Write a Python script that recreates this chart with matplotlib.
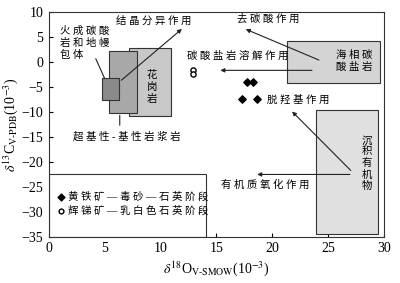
import matplotlib.pyplot as plt
from matplotlib.patches import Rectangle

plt.rcParams['font.family'] = ['Liberation Serif', 'Noto Sans CJK SC', 'DejaVu Sans']
plt.rcParams['mathtext.fontset'] = 'stix'

# 样品数据 (δ18O, δ13C)
o18_pyrite = [17.7, 18.3, 17.3, 18.6]
c13_pyrite = [-4.05, -4.05, -7.3, -7.3]
o18_stibnite = [12.9, 12.9]
c13_stibnite = [-1.65, -2.45]

# 端元区域: (x0, y0, x1, y1, 颜色)
fields = [
    (7.2, -10.7, 10.9, 2.8, '#c8c8c8'),   # 花岗岩
    (5.4, -10.1, 7.9, 2.2, '#a8a8a8'),    # 超基性-基性岩浆岩
    (4.8, -7.6, 6.3, -3.2, '#8a8a8a'),    # 火成碳酸岩和地幔包体
    (21.3, -4.1, 29.6, 4.2, '#d4d4d4'),   # 海相碳酸盐岩
    (23.9, -34.5, 29.5, -9.5, '#e0e0e0'), # 沉积有机物
]


def sp(s):
    # 字间加空格, 模仿原图的字距
    return '\n'.join(' '.join(line) for line in s.split('\n'))


fig, ax = plt.subplots(figsize=(4, 2.83), dpi=100)
fig.subplots_adjust(left=0.122, right=0.96, top=0.957, bottom=0.163)

for x0, y0, x1, y1, c in fields:
    ax.add_patch(Rectangle((x0, y0), x1 - x0, y1 - y0, facecolor=c,
                           edgecolor='#333333', linewidth=0.8, zorder=2))

# 图例框
ax.add_patch(Rectangle((0, -35), 14.1, 12.5, facecolor='white',
                       edgecolor='#333333', linewidth=0.8, zorder=2))

ax.scatter(o18_pyrite, c13_pyrite, marker='D', s=14, color='black', zorder=5)
ax.scatter(o18_stibnite, c13_stibnite, marker='o', s=14, facecolor='white',
           edgecolor='black', linewidth=1.0, zorder=5)

ap = dict(arrowstyle='-|>', color='#222222', lw=0.8, mutation_scale=6)
ln = dict(arrowstyle='-', color='#222222', lw=0.8)
cfs = 7.5

ax.annotate('', xy=(12.1, 7.0), xytext=(6.3, -4.0), arrowprops=ap, zorder=4)
ax.annotate('', xy=(4.1, 1.2), xytext=(5.1, -3.8), arrowprops=ln, zorder=4)
ax.annotate('', xy=(6.35, -13.2), xytext=(6.35, -10.1), arrowprops=ln, zorder=4)
ax.annotate('', xy=(17.4, 6.8), xytext=(24.4, 0.2), arrowprops=ap, zorder=4)
ax.annotate('', xy=(15.1, -1.65), xytext=(23.8, -1.65), arrowprops=ap, zorder=4)
ax.annotate('', xy=(21.6, -9.5), xytext=(27.2, -22.1), arrowprops=ap, zorder=4)
ax.annotate('', xy=(18.4, -22.5), xytext=(27.2, -22.5), arrowprops=ap, zorder=4)

ax.text(9.4, 8.3, sp('结晶分异作用'), fontsize=cfs, ha='center', va='center', zorder=6)
ax.text(1.0, 7.2, sp('火成碳酸\n岩和地幔\n包体'), fontsize=cfs, ha='left', va='top',
        linespacing=1.2, zorder=6)
ax.text(7.0, -15.0, sp('超基性-基性岩浆岩'), fontsize=cfs, ha='center', va='center', zorder=6)
ax.text(9.2, -5.0, '花\n岗\n岩', fontsize=cfs, ha='center', va='center',
        linespacing=1.25, zorder=6)
ax.text(19.6, 8.6, sp('去碳酸作用'), fontsize=cfs, ha='center', va='center', zorder=6)
ax.text(16.9, 1.2, sp('碳酸盐岩溶解作用'), fontsize=cfs, ha='center', va='center', zorder=6)
ax.text(27.3, 0.2, sp('海相碳\n酸盐岩'), fontsize=cfs, ha='center', va='center',
        linespacing=1.2, zorder=6)
ax.text(22.3, -7.5, sp('脱羟基作用'), fontsize=cfs, ha='center', va='center', zorder=6)
ax.text(19.4, -24.6, sp('有机质氧化作用'), fontsize=cfs, ha='center', va='center', zorder=6)
ax.text(28.5, -20.3, '沉\n积\n有\n机\n物', fontsize=cfs, ha='center', va='center',
        linespacing=1.2, zorder=6)

# 图例
ax.scatter([1.07], [-27.0], marker='D', s=12, color='black', zorder=6)
ax.scatter([1.07], [-29.8], marker='o', s=12, facecolor='white', edgecolor='black',
           linewidth=1.0, zorder=6)
ax.text(1.7, -27.0, sp('黄铁矿—毒砂—石英阶段'), fontsize=cfs, ha='left', va='center', zorder=6)
ax.text(1.7, -29.8, sp('辉锑矿—乳白色石英阶段'), fontsize=cfs, ha='left', va='center', zorder=6)

ax.set_xlim(0, 30)
ax.set_ylim(-35, 10)
ax.set_xticks([0, 5, 10, 15, 20, 25, 30])
ax.set_yticks([10, 5, 0, -5, -10, -15, -20, -25, -30, -35])
ax.tick_params(direction='in', length=3, width=0.8, labelsize=10, pad=4)
for s in ax.spines.values():
    s.set_linewidth(0.8)
    s.set_color('#333333')

ax.set_xlabel(r'$\delta^{18}$O$_{\rm V\text{-}SMOW}$(10$^{-3}$)', fontsize=10, labelpad=3)
ax.set_ylabel(r'$\delta^{13}$C$_{\rm V\text{-}PDB}$(10$^{-3}$)', fontsize=10, labelpad=1)

fig.savefig('out.png', dpi=100)
